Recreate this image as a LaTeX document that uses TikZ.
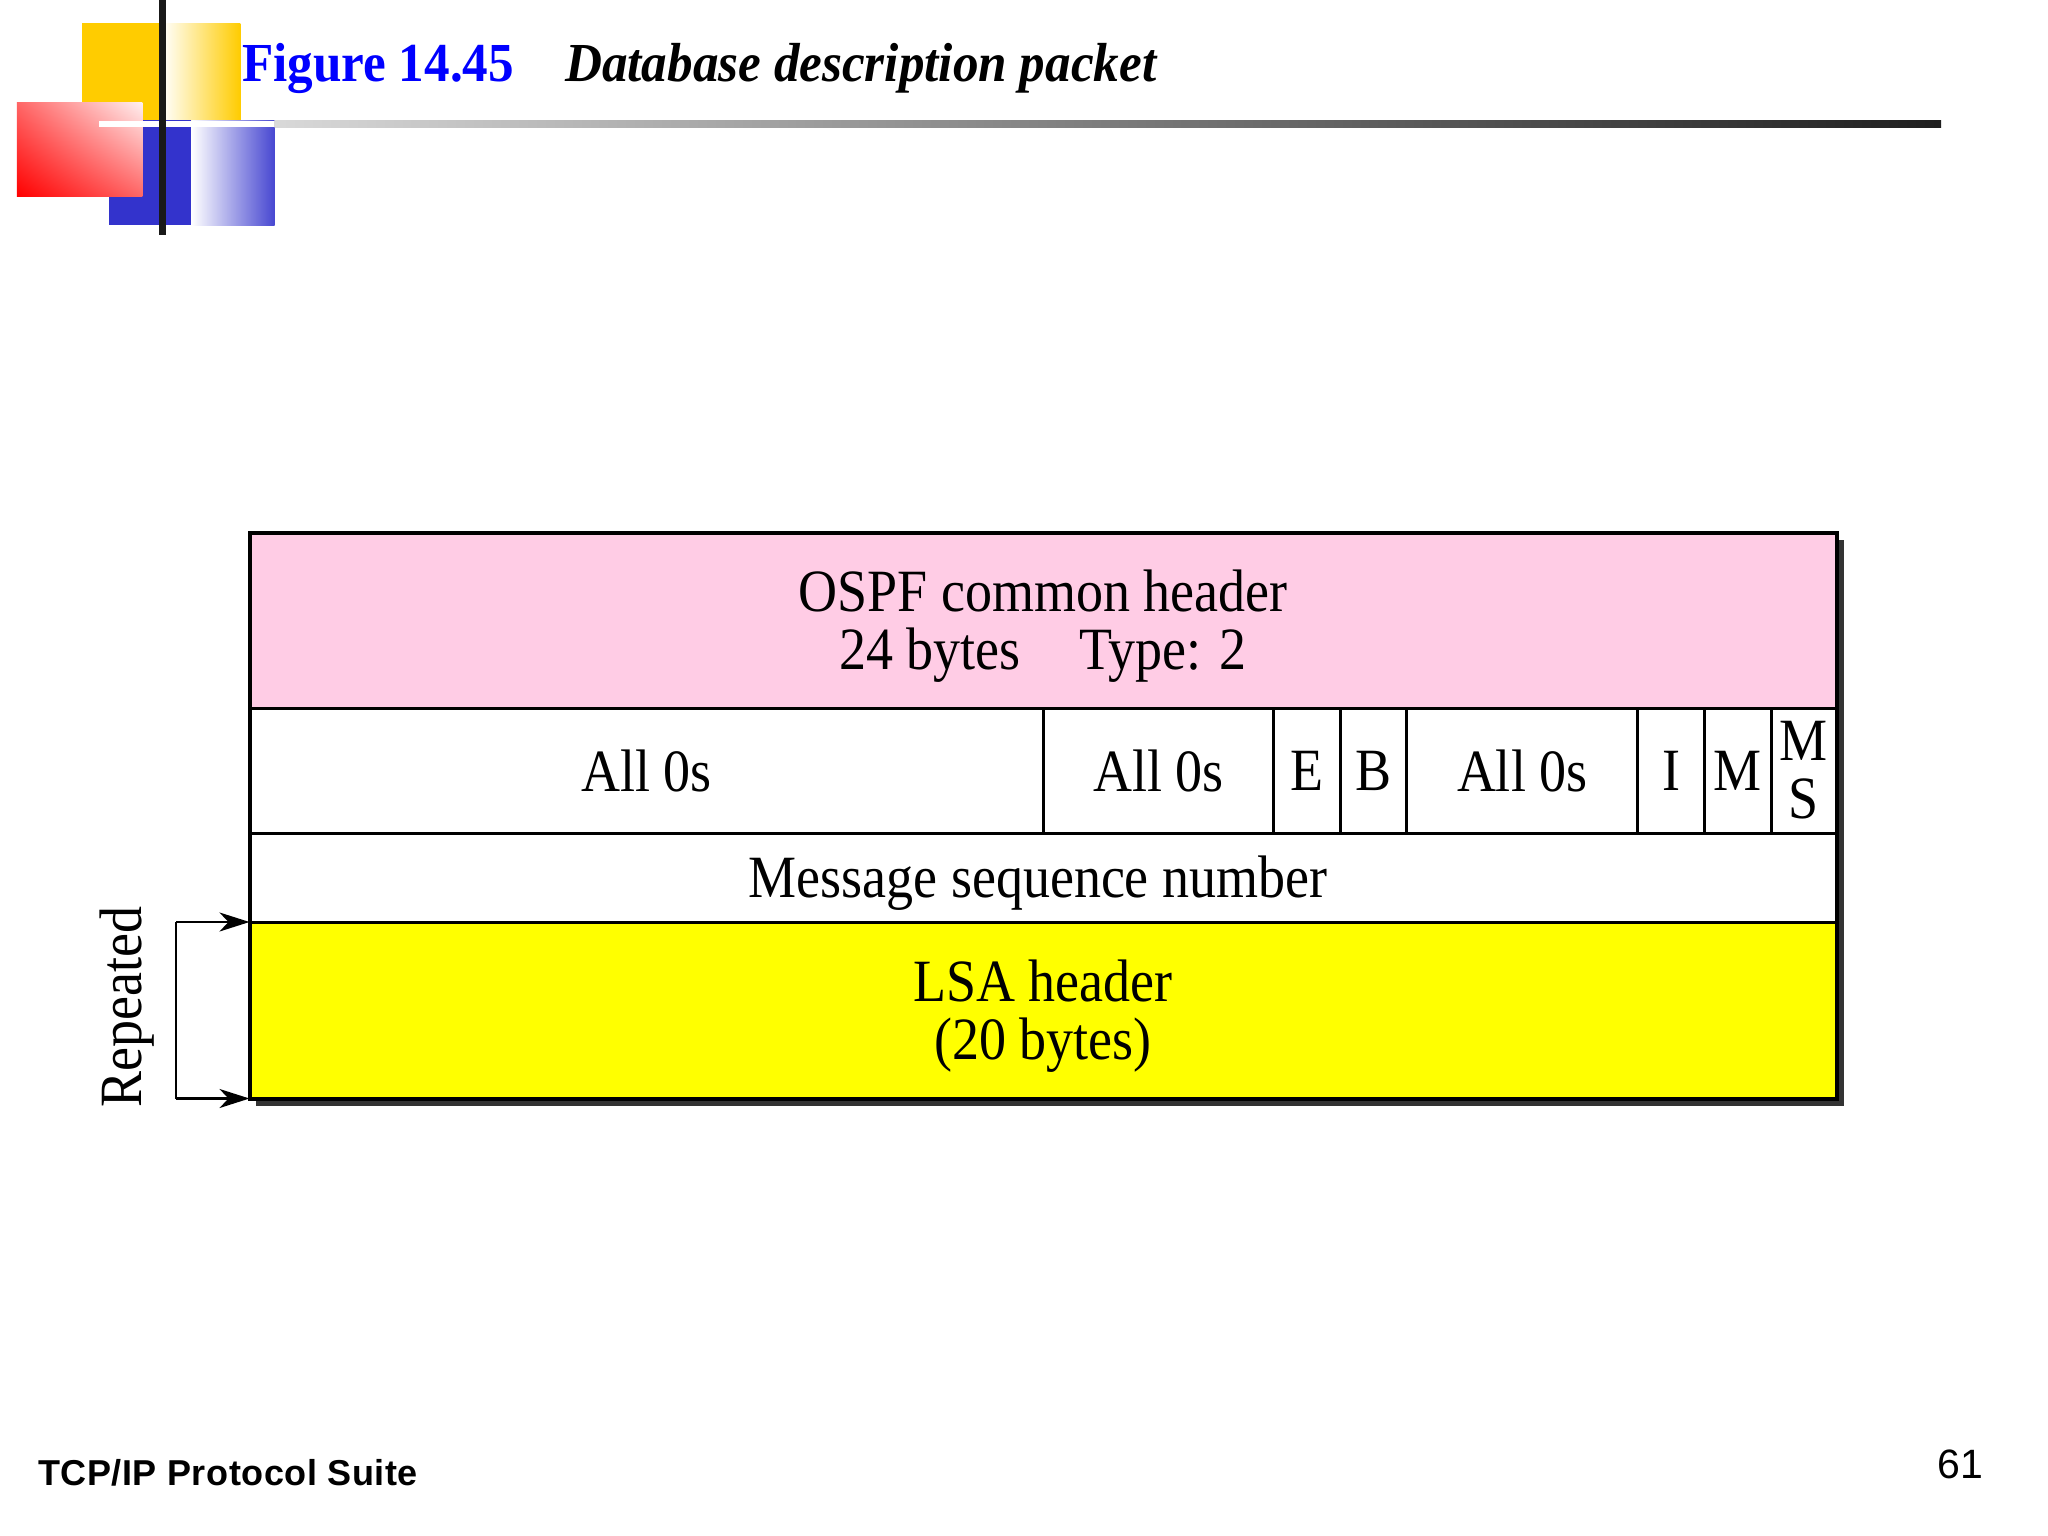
\documentclass[tikz,border=0pt]{standalone}
\usepackage{fontspec}
\setmainfont{Liberation Serif}
\newfontfamily\cellfont[FakeStretch=0.9]{Liberation Serif}
\newfontfamily\titlefont[FakeStretch=0.93]{Liberation Serif}
\newfontfamily\footfont{Liberation Sans}
\newfontfamily\footspaced[LetterSpace=1.5]{Liberation Sans}
\usetikzlibrary{arrows.meta,shadings}
\definecolor{pinkfill}{RGB}{255,204,229}
\definecolor{goldc}{RGB}{255,204,0}
\definecolor{logoblue}{RGB}{51,51,204}
\definecolor{titleblue}{RGB}{0,0,255}
\definecolor{lsayellow}{RGB}{255,255,0}
\begin{document}
\begin{tikzpicture}[x=1pt,y=-1pt,
  cell/.style={draw=black, line width=3pt, inner sep=0pt, outer sep=0pt, anchor=north west,
    align=center, font=\cellfont\fontsize{60}{58}\selectfont},
  celltext/.style={inner sep=0pt, align=center, font=\cellfont\fontsize{60}{58}\selectfont},
  bracket/.style={line width=2.5pt, draw=black},
  reptip/.style={-{Stealth[length=30pt,width=19pt,inset=9pt]}}]
\useasboundingbox (0,0) rectangle (2048,1536);
\fill[white] (0,0) rectangle (2048,1536);

% ---- logo ----
\fill[goldc] (82.3,23.5) rectangle (162,120.2);
\shade[left color=white, right color=goldc] (162,23.5) rectangle (240.3,120.2);
\fill[logoblue] (109,120.2) rectangle (191.3,225);
\shade[left color=white, right color=logoblue!90!white] (191.3,120.2) rectangle (274.6,225);
\shade[lower left=red, upper left=red!60!white, lower right=red!60!white, upper right=red!6!white]
  (16.9,102.5) rectangle (142.4,196.5);
\fill[white] (98.8,121) rectangle (274.6,127.5);
\shade[left color=black!15, right color=black!88] (274.6,121) rectangle (1941,127.5);
\fill[black!90] (159,0) rectangle (165.5,235);

% ---- title ----
\node[anchor=base west, inner sep=0pt, text=titleblue, font=\titlefont\bfseries\fontsize{55}{60}\selectfont]
  (figno) at (242,82) {Figure 14.45};
\node[anchor=base west, inner sep=0pt, font=\titlefont\bfseries\itshape\fontsize{55}{60}\selectfont]
  (figtitle) at (565,82) {Database description packet};

% ---- packet ----
\fill[black!80] (256,540) rectangle (1844,1105.5);
\node[cell, fill=pinkfill, minimum width=1587pt, minimum height=175pt] (hdr) at (249.5,533) {};
\node[celltext] (hdrtext) at ([yshift=-6pt]hdr.center) {OSPF common header\\24 bytes\hspace{59pt}Type: 2};
\node[cell, fill=white, minimum width=794.1pt, minimum height=125pt] (z1) at (249.5,708) {All 0s};
\node[cell, fill=white, minimum width=229.8pt, minimum height=125pt] (z2) at (1043.6,708) {All 0s};
\node[cell, fill=white, minimum width=66.6pt, minimum height=125pt] (ebit) at (1273.4,708) {E};
\node[cell, fill=white, minimum width=66.7pt, minimum height=125pt] (bbit) at (1340,708) {B};
\node[cell, fill=white, minimum width=231.1pt, minimum height=125pt] (z3) at (1406.7,708) {All 0s};
\node[cell, fill=white, minimum width=66.7pt, minimum height=125pt] (ibit) at (1637.8,708) {I};
\node[cell, fill=white, minimum width=66.5pt, minimum height=125pt] (mbit) at (1704.5,708) {M};
\node[cell, fill=white, minimum width=65.5pt, minimum height=125pt] (msbit) at (1771,708) {M\\S};
\node[cell, fill=white, minimum width=1587pt, minimum height=89pt] (seq) at (249.5,833) {};
\node[celltext] (seqtext) at ([xshift=-5pt,yshift=-6pt]seq.center) {Message sequence number};
\node[cell, fill=lsayellow, minimum width=1587pt, minimum height=176.5pt] (lsa) at (249.5,922) {};
\node[celltext] (lsatext) at ([yshift=-6pt]lsa.center) {LSA header\\(20 bytes)};
\draw[line width=4pt] (hdr.north west) rectangle (lsa.south east);

% ---- repeated bracket ----
\coordinate (rtop) at (176,922);
\coordinate (rbot) at (176,1098.5);
\draw[bracket] (rtop) -- (rbot);
\draw[bracket, reptip] (rtop) -- (lsa.north west);
\draw[bracket, reptip] (rbot) -- (lsa.south west);
\node[rotate=90, inner sep=0pt, font=\cellfont\fontsize{60}{58}\selectfont] (rep) at (126.7,1007) {Repeated};

% ---- footer ----
\node[anchor=base west, inner sep=0pt, font=\footspaced\bfseries\fontsize{36}{40}\selectfont] (footer) at (38,1485)
  {TCP/IP Protocol Suite};
\node[anchor=base east, inner sep=0pt, font=\footfont\fontsize{41}{46}\selectfont] (pagenum) at (1983,1478) {61};
\end{tikzpicture}
\end{document}
